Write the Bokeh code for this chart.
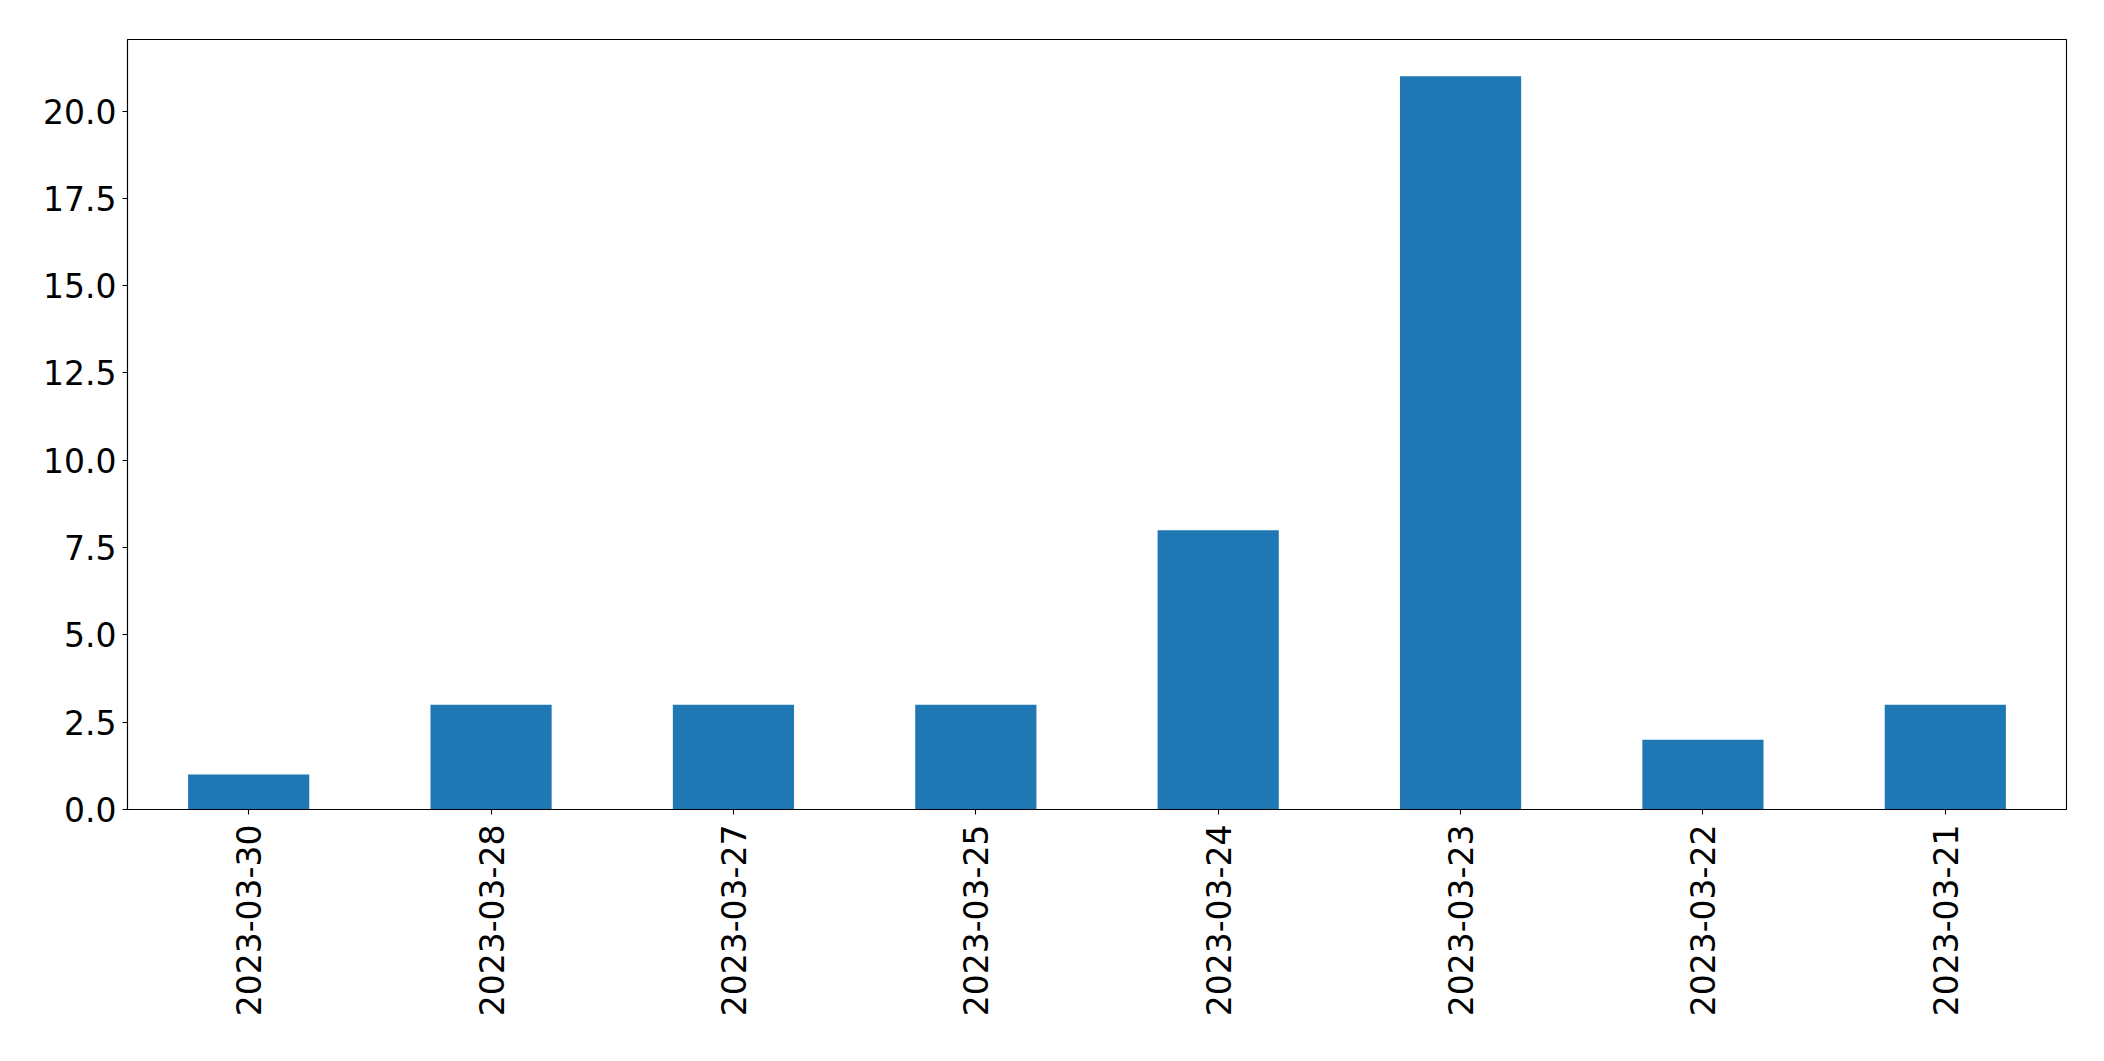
import math
from bokeh.plotting import figure
from bokeh.models import FactorRange, Range1d, FixedTicker, PrintfTickFormatter, ColumnDataSource
from bokeh.embed import file_html
from bokeh.resources import INLINE

dates = ["2023-03-30", "2023-03-28", "2023-03-27", "2023-03-25",
         "2023-03-24", "2023-03-23", "2023-03-22", "2023-03-21"]
counts = [1, 3, 3, 3, 8, 21, 2, 3]
y_ticks = [0.0, 2.5, 5.0, 7.5, 10.0, 12.5, 15.0, 17.5, 20.0]

src = ColumnDataSource(dict(x=dates, top=counts))

p = figure(width=2096, height=1053, x_range=FactorRange(*dates),
           y_range=Range1d(0, max(counts) * 1.05),
           output_backend="svg", toolbar_location=None,
           min_border_left=127, min_border_top=39, min_border_right=30, min_border_bottom=244)

p.vbar(x="x", top="top", width=0.5, source=src, color="#1f77b4", line_color=None)

p.xgrid.visible = False
p.ygrid.visible = False
p.outline_line_color = "black"
p.outline_line_width = 1.1
p.background_fill_color = "white"
p.border_fill_color = "white"

for ax in (p.xaxis[0], p.yaxis[0]):
    ax.axis_line_color = "black"
    ax.axis_line_width = 1.1
    ax.major_tick_line_color = "black"
    ax.major_tick_line_width = 1.1
    ax.major_tick_out = 5
    ax.major_tick_in = 0
    ax.minor_tick_line_color = None
    ax.major_label_text_font = "DejaVu Sans"
    ax.major_label_text_font_size = "33px"
    ax.major_label_text_color = "black"

p.yaxis[0].ticker = FixedTicker(ticks=y_ticks)
p.yaxis[0].formatter = PrintfTickFormatter(format="%.1f")
p.yaxis[0].major_label_standoff = 6
p.xaxis[0].major_label_orientation = math.pi / 2
p.xaxis[0].major_label_standoff = 10

open("out.html", "w").write(file_html(p, INLINE))
